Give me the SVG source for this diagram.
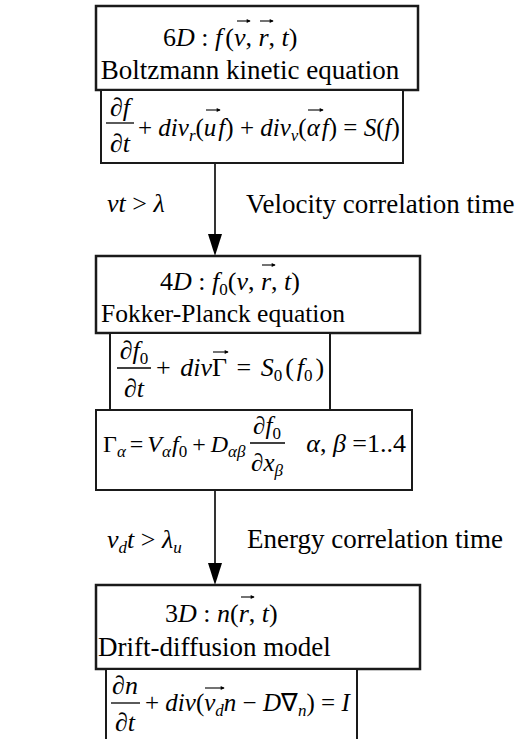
<svg xmlns="http://www.w3.org/2000/svg" width="523" height="739" viewBox="0 0 523 739">
<style>
.t{font-family:"Liberation Serif","Times New Roman",serif;font-size:27px;fill:#000}
.m{font-family:"Liberation Serif","Times New Roman",serif;font-size:26px;fill:#000}
.m25{font-family:"Liberation Serif","Times New Roman",serif;font-size:25px;fill:#000}
.m24{font-family:"Liberation Serif","Times New Roman",serif;font-size:24px;fill:#000}
.i{font-style:italic}
.s{font-size:17px}
.box{fill:#fff;stroke:#1a1a1a;stroke-width:2.5}
.eq{fill:#fff;stroke:#1a1a1a;stroke-width:2}
.bar{stroke:#000;stroke-width:1.3}
.vec{stroke:#000;stroke-width:1.1;fill:none;marker-end:url(#vh)}
.conn{stroke:#000;stroke-width:1.6;fill:none}
</style>
<defs>
<marker id="vh" viewBox="0 0 6 6" refX="5" refY="3" markerWidth="5" markerHeight="4" markerUnits="userSpaceOnUse" orient="auto"><path d="M0,0 L6,3 L0,6 z" fill="#000"/></marker>
</defs>

<g id="connectors">
<line class="conn" x1="215" y1="163" x2="215" y2="236"/>
<polygon points="208,234 222,234 215,256" fill="#000"/>
<line class="conn" x1="215" y1="490" x2="215" y2="565"/>
<polygon points="208,563 222,563 215,585" fill="#000"/>
</g>

<g id="node-6d">
<rect class="box" x="96" y="6" width="322" height="84"/>
<text class="m" x="163" y="46">6<tspan class="i">D</tspan> : <tspan class="i">f</tspan><tspan dx="3">(</tspan><tspan class="i">v</tspan>, <tspan class="i">r</tspan>, <tspan class="i">t</tspan>)</text>
<path class="vec" d="M237,21 H250"/>
<path class="vec" d="M260,21 H273"/>
<text class="t" x="250" y="79" text-anchor="middle">Boltzmann kinetic equation</text>
</g>

<g id="node-boltzmann-eq">
<rect class="eq" x="101" y="90" width="302" height="73"/>
<text class="m" x="120" y="116" text-anchor="middle">∂<tspan class="i">f</tspan></text>
<line class="bar" x1="106" y1="123" x2="134" y2="123"/>
<text class="m" x="120" y="152" text-anchor="middle">∂<tspan class="i">t</tspan></text>
<text class="m25" x="138" y="136">+ <tspan class="i">div</tspan><tspan class="i s" dy="5">r</tspan><tspan dy="-5">(</tspan><tspan class="i">u</tspan><tspan class="i" dx="2">f</tspan>) + <tspan class="i">div</tspan><tspan class="i s" dy="5">v</tspan><tspan dy="-5">(</tspan><tspan class="i">α</tspan><tspan class="i" dx="2">f</tspan>) = <tspan class="i">S</tspan>(<tspan class="i">f</tspan>)</text>
<path class="vec" d="M206,110 H220"/>
<path class="vec" d="M308,110 H323"/>
</g>

<g id="label-velocity">
<text class="m" x="107" y="212"><tspan class="i">vt</tspan> &gt; <tspan class="i">λ</tspan></text>
<text class="t" x="246" y="213">Velocity correlation time</text>
</g>

<g id="node-4d">
<rect class="box" x="96" y="256" width="324" height="77"/>
<text class="m" x="160" y="290">4<tspan class="i">D</tspan> : <tspan class="i">f</tspan><tspan class="s" dy="5">0</tspan><tspan dy="-5">(</tspan><tspan class="i">v</tspan>, <tspan class="i">r</tspan>, <tspan class="i">t</tspan>)</text>
<path class="vec" d="M262,265 H275"/>
<text class="t" x="223" y="322" text-anchor="middle" style="font-size:25.5px">Fokker-Planck equation</text>
</g>

<g id="node-fp-eq">
<rect class="eq" x="110" y="333" width="220" height="77"/>
<text class="m" x="134" y="359" text-anchor="middle">∂<tspan class="i">f</tspan><tspan class="s" dy="5">0</tspan></text>
<line class="bar" x1="117" y1="368" x2="151" y2="368"/>
<text class="m" x="134" y="397" text-anchor="middle">∂<tspan class="i">t</tspan></text>
<text class="m" x="156" y="376">+ <tspan class="i" dx="3">div</tspan>Γ <tspan dx="3">=</tspan> <tspan class="i" dx="3">S</tspan><tspan class="s" dy="5">0</tspan><tspan dy="-5" dx="3">(</tspan><tspan class="i" dx="3">f</tspan><tspan class="s" dy="5">0</tspan><tspan dy="-5" dx="3">)</tspan></text>
<path class="vec" d="M213,352 H228"/>
</g>

<g id="node-flux">
<rect class="eq" x="96" y="410" width="316" height="80"/>
<text class="m24" x="103" y="452">Γ<tspan class="i s" dy="5">α</tspan><tspan dy="-5" dx="4">=</tspan><tspan class="i" dx="4">V</tspan><tspan class="i s" dy="5">α</tspan><tspan class="i" dy="-5" dx="1">f</tspan><tspan class="s" dy="5">0</tspan><tspan dy="-5" dx="5">+</tspan><tspan class="i" dx="5">D</tspan><tspan class="i s" dy="5">αβ</tspan></text>
<text class="m25" x="267" y="434" text-anchor="middle">∂<tspan class="i">f</tspan><tspan class="s" dy="5">0</tspan></text>
<line class="bar" x1="250" y1="443" x2="285" y2="443"/>
<text class="m25" x="267" y="471" text-anchor="middle">∂<tspan class="i">x</tspan><tspan class="i s" dy="5">β</tspan></text>
<text class="m" x="406" y="452" text-anchor="end"><tspan class="i">α</tspan>, <tspan class="i">β</tspan> =1..4</text>
</g>

<g id="label-energy">
<text class="m" x="107" y="548"><tspan class="i">v</tspan><tspan class="i s" dy="5">d</tspan><tspan class="i" dy="-5">t</tspan> &gt; <tspan class="i">λ</tspan><tspan class="i s" dy="5">u</tspan></text>
<text class="t" x="247" y="548">Energy correlation time</text>
</g>

<g id="node-3d">
<rect class="box" x="96" y="585" width="324" height="84"/>
<text class="m" x="165" y="622">3<tspan class="i">D</tspan> : <tspan class="i">n</tspan>(<tspan class="i">r</tspan>, <tspan class="i">t</tspan>)</text>
<path class="vec" d="M241,597 H254"/>
<text class="t" x="98" y="656">Drift-diffusion model</text>
</g>

<g id="node-dd-eq">
<rect class="eq" x="106" y="669" width="251" height="80"/>
<text class="m" x="125" y="694" text-anchor="middle">∂<tspan class="i">n</tspan></text>
<line class="bar" x1="111" y1="703" x2="140" y2="703"/>
<text class="m" x="125" y="731" text-anchor="middle">∂<tspan class="i">t</tspan></text>
<text class="m25" x="145" y="711">+ <tspan class="i">div</tspan>(<tspan class="i">v</tspan><tspan class="i s" dy="5">d</tspan><tspan class="i" dy="-5">n</tspan> − <tspan class="i">D</tspan>∇<tspan class="i s" dy="5">n</tspan><tspan dy="-5">)</tspan> = <tspan class="i">I</tspan></text>
<path class="vec" d="M205,688 H224"/>
</g>
</svg>
